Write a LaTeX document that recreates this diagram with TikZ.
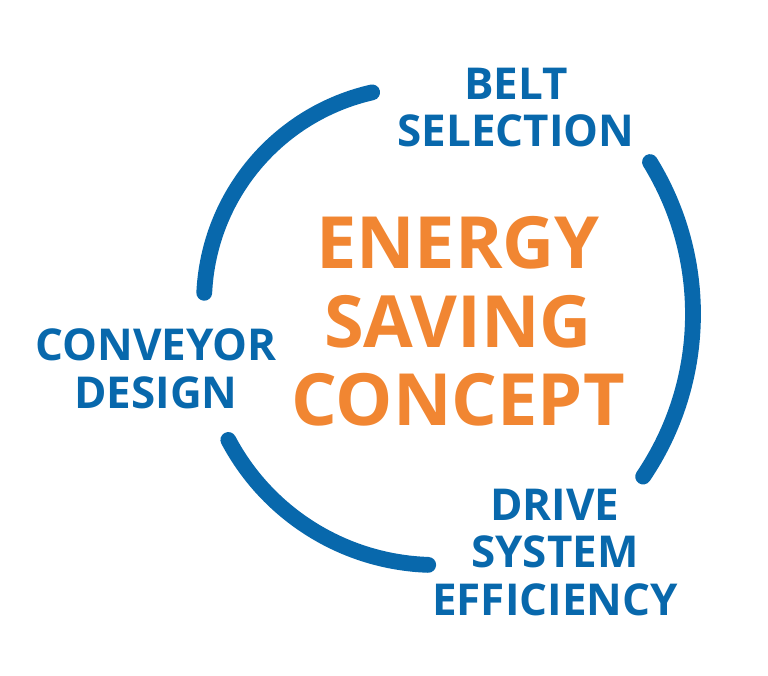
\documentclass[tikz,border=0pt]{standalone}
\usepackage{fontspec}
\setmainfont{Open Sans}
\definecolor{ringblue}{RGB}{8,104,172}
\definecolor{conceptorange}{RGB}{241,134,50}

\begin{document}
\begin{tikzpicture}[x=0.02cm,y=0.02cm,
    ring/.style={ringblue,line width=9pt,line cap=round},
    topic/.style={ringblue,inner sep=0pt,align=center,
      font=\fontsize{25}{27.2}\selectfont\bfseries},
    concept/.style={conceptorange,inner sep=0pt,align=center,
      font=\fontsize{41}{44.8}\selectfont\bfseries}]
	\useasboundingbox (0,0) rectangle (768,676);
	% ring pieces
	\coordinate (tl) at (420,373);
	\coordinate (rt) at (403,362);
	\coordinate (bt) at (436,346);
	\draw[ring] (tl) ++(102.8:216) arc[start angle=102.8,end angle=177.3,radius=216];
	\draw[ring] (rt) ++(31.6:290) arc[start angle=31.6,end angle=-34.1,radius=290];
	\draw[ring] (bt) ++(207.9:235) arc[start angle=207.9,end angle=268.1,radius=235];
	% labels
	\node[concept] (energy) at (458,354.5) {ENERGY\\SAVING\\CONCEPT};
	\node[topic] (belt) at (516,568.5) {BELT\\SELECTION};
	\node[topic] (conveyor) at (156,307) {CONVEYOR\\DESIGN};
	\node[topic] (drive) at (555,123.5) {DRIVE\\SYSTEM\\EFFICIENCY};
\end{tikzpicture}
\end{document}
